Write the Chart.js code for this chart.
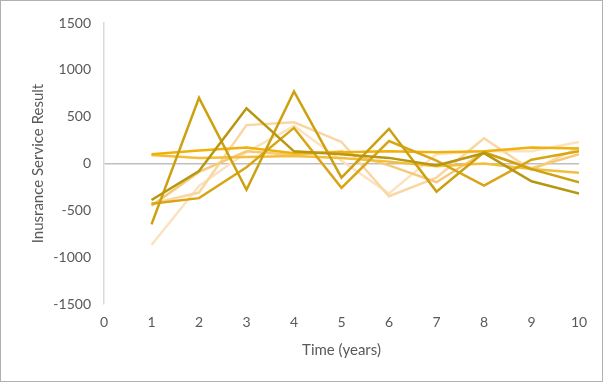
<!DOCTYPE html>
<html>
<head>
<meta charset="utf-8">
<script src="https://cdn.jsdelivr.net/npm/chart.js@4/dist/chart.umd.min.js"></script>
<style>
  html, body { margin: 0; padding: 0; background: #fff; }
  #wrap { position: absolute; left: 0; top: 0; width: 603px; height: 382px; box-sizing: border-box; border: 1px solid #b0b0b0; }
  #c { display: block; }
</style>
</head>
<body>
<div id="wrap"><canvas id="c" width="601" height="380"></canvas></div>
<script>
const years = [1, 2, 3, 4, 5, 6, 7, 8, 9, 10];
const yTicks = [-1500, -1000, -500, 0, 500, 1000, 1500];
const xTicks = [0, 1, 2, 3, 4, 5, 6, 7, 8, 9, 10];

const series1 = [-390, -80, 590, 130, 100, 60, -20, 110, -190, -320];
const series2 = [-650, 700, -280, 770, -150, 370, -300, 120, -60, -200];
const series3 = [-430, -370, -40, 380, -260, 240, 30, -235, 40, 130];
const series4 = [100, 140, 170, 110, 120, 130, 120, 130, 170, 160];
const series5 = [90, 60, 70, 80, 60, 20, -30, 0, -60, -100];
const series6 = [-450, -90, 130, 90, 130, -20, -200, 120, -50, 100];
const series7 = [-430, -310, 410, 440, 230, -350, -150, 270, -70, 170];
const series8 = [-870, -240, 120, 400, 30, -320, 100, 130, 130, 230];

const allSeries = [series1, series2, series3, series4, series5, series6, series7, series8];
const colors = ['#B8960F', '#CDA010', '#D9A514', '#EFB20C', '#F3BE3A', '#F6C979', '#F9D7A2', '#FCE3C0'];

const datasets = allSeries.map((s, k) => ({
  label: 'Scenario ' + (k + 1),
  data: s.map((v, i) => ({ x: years[i], y: v })),
  borderColor: colors[k],
  backgroundColor: colors[k],
  borderWidth: 2.5,
  pointRadius: 0,
  tension: 0,
  fill: false
}));

const tickFont = { family: 'Lato, "Open Sans", sans-serif', size: 14 };
const titleFont = { family: 'Lato, "Open Sans", sans-serif', size: 15 };

new Chart(document.getElementById('c'), {
  type: 'line',
  data: { datasets },
  options: {
    responsive: false,
    animation: false,
    layout: { padding: { top: 22, right: 23, bottom: 0, left: 0 } },
    plugins: { legend: { display: false }, tooltip: { enabled: false } },
    scales: {
      x: {
        type: 'linear',
        min: 0, max: 10,
        afterBuildTicks: s => { s.ticks = xTicks.map(v => ({ value: v })); },
        afterFit: s => { s.height = 77; },
        grid: { display: false, drawTicks: false },
        border: { display: false },
        ticks: { color: '#595959', font: tickFont, padding: 10, maxRotation: 0, callback: v => String(v) },
        title: { display: true, text: 'Time (years)', color: '#595959', font: titleFont, padding: { top: 0, bottom: 22 } }
      },
      y: {
        min: -1500, max: 1500,
        afterBuildTicks: s => { s.ticks = yTicks.map(v => ({ value: v })); },
        afterFit: s => { s.width = 103; },
        grid: {
          drawTicks: false,
          color: c => (c.tick && c.tick.value === 0 ? '#bfbfbf' : 'rgba(0,0,0,0)'),
          lineWidth: 1.5
        },
        border: { display: true, color: '#d9d9d9', width: 1.5 },
        ticks: { color: '#595959', font: tickFont, padding: 13, callback: v => String(v) },
        title: { display: true, text: 'Inusrance Service Result', color: '#595959', font: titleFont, padding: { top: 28, bottom: 0 } }
      }
    }
  }
});
</script>
</body>
</html>
